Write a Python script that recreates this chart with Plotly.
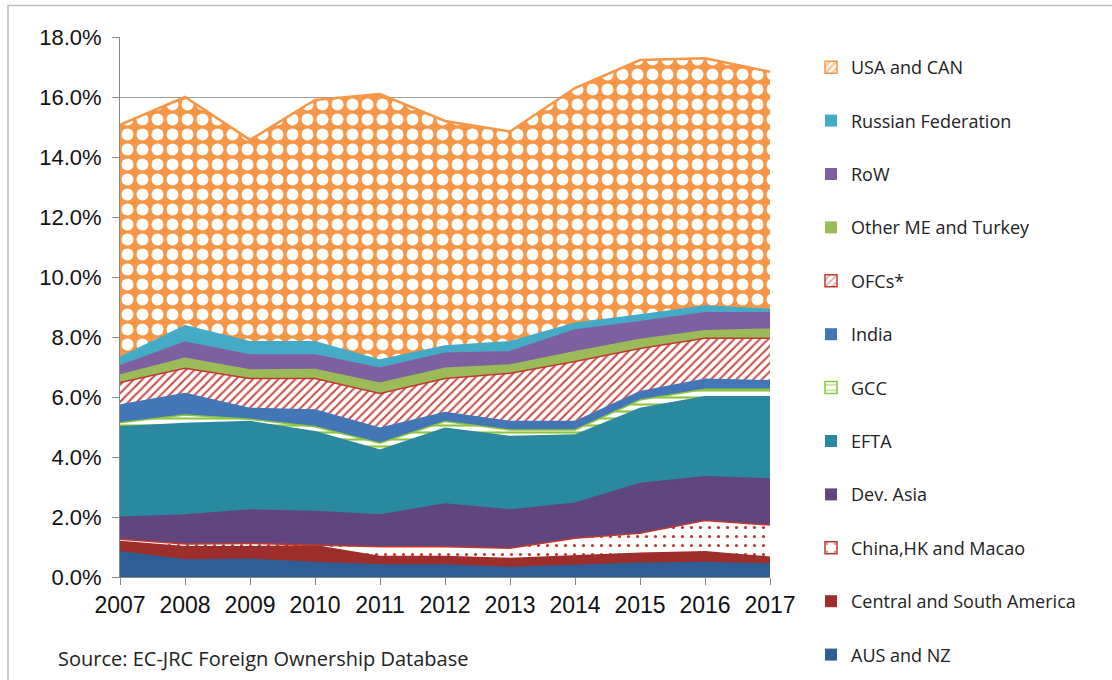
import plotly.graph_objects as go

years = [2007, 2008, 2009, 2010, 2011, 2012, 2013, 2014, 2015, 2016, 2017]

# shares in % (stacked bottom -> top)
aus_nz = [0.84, 0.57, 0.59, 0.48, 0.40, 0.40, 0.32, 0.40, 0.46, 0.48, 0.43]
central_south_america = [0.34, 0.44, 0.42, 0.56, 0.28, 0.28, 0.30, 0.30, 0.33, 0.36, 0.23]
china_hk_macao = [0.08, 0.09, 0.11, 0.03, 0.33, 0.33, 0.34, 0.59, 0.67, 1.04, 1.07]
dev_asia = [0.73, 0.97, 1.11, 1.11, 1.06, 1.42, 1.27, 1.17, 1.66, 1.46, 1.54]
efta = [3.02, 3.05, 2.95, 2.66, 2.16, 2.53, 2.45, 2.27, 2.50, 2.67, 2.74]
gcc = [0.13, 0.28, 0.08, 0.17, 0.23, 0.22, 0.22, 0.17, 0.28, 0.25, 0.25]
india = [0.59, 0.72, 0.36, 0.56, 0.50, 0.30, 0.28, 0.28, 0.28, 0.33, 0.28]
ofcs = [0.75, 0.84, 1.00, 1.05, 1.16, 1.14, 1.61, 2.00, 1.44, 1.37, 1.42]
other_me_turkey = [0.25, 0.33, 0.28, 0.30, 0.34, 0.34, 0.28, 0.33, 0.30, 0.25, 0.30]
row = [0.31, 0.53, 0.50, 0.48, 0.50, 0.50, 0.44, 0.72, 0.59, 0.60, 0.55]
russia = [0.28, 0.55, 0.44, 0.44, 0.27, 0.24, 0.33, 0.23, 0.22, 0.22, 0.11]
usa_can = [7.75, 7.63, 6.73, 8.06, 8.87, 7.50, 7.01, 7.84, 8.50, 8.26, 7.92]

y_ticks = [0, 2, 4, 6, 8, 10, 12, 14, 16, 18]
y_tick_labels = [f"{v:.1f}%" for v in y_ticks]

series = [
    ("AUS and NZ", aus_nz, "#2E5E95", None),
    ("Central and South America", central_south_america, "#9E2E2B", None),
    ("China,HK and Macao", china_hk_macao, "#C0392F",
     dict(shape=".", fgcolor="#C0392F", bgcolor="white", size=9, solidity=0.1)),
    ("Dev. Asia", dev_asia, "#60457E", None),
    ("EFTA", efta, "#2A889F", None),
    ("GCC", gcc, "#8CC43F",
     dict(shape="-", fgcolor="#8CC43F", bgcolor="white", size=7, solidity=0.3)),
    ("India", india, "#4276B6", None),
    ("OFCs*", ofcs, "#C0392F",
     dict(shape="/", fgcolor="#C9504D", bgcolor="white", size=6, solidity=0.35)),
    ("Other ME and Turkey", other_me_turkey, "#9BBB59", None),
    ("RoW", row, "#7E5FA0", None),
    ("Russian Federation", russia, "#45AAC5", None),
    ("USA and CAN", usa_can, "#F79646",
     dict(shape=".", fgcolor="white", bgcolor="#F79646", size=15, solidity=0.5)),
]

fig = go.Figure()

# legend-only square markers (top -> bottom order as in the reference)
for name, vals, color, pat in reversed(series):
    marker = dict(color=color if pat is None else "white",
                  line=dict(color=color, width=1.5 if pat else 0))
    if pat:
        p = dict(pat)
        if name == "USA and CAN":
            p = dict(shape="/", fgcolor="#F79646", bgcolor="white", size=6, solidity=0.6)
        if name == "China,HK and Macao":
            p = dict(shape=".", fgcolor="#C0392F", bgcolor="white", size=12, solidity=0.1)
        marker["pattern"] = p
    fig.add_trace(go.Bar(x=[None], y=[None], name=name, legendgroup=name,
                         marker=marker, showlegend=True, hoverinfo="skip"))

for name, vals, color, pat in series:
    kw = dict(
        x=years, y=vals, name=name, mode="lines", stackgroup="one",
        showlegend=False,
        line=dict(color=color, width=2.5 if name == "USA and CAN" else 1.5),
    )
    if pat:
        kw["fillpattern"] = dict(**pat, fillmode="replace")
        kw["fillcolor"] = pat["bgcolor"]
    else:
        kw["fillcolor"] = color
    fig.add_trace(go.Scatter(**kw))

L, R, T, B = 120, 342, 37, 103
W, H = 1112, 680


def px_x(px):
    return (px - L) / (W - L - R)


def px_y(py):
    return (H - B - py) / (H - T - B)


fig.update_layout(
    width=W, height=H,
    margin=dict(l=L, r=R, t=T, b=B, autoexpand=False),
    paper_bgcolor="white", plot_bgcolor="white",
    showlegend=True,
    legend=dict(
        traceorder="grouped",
        x=px_x(811), xanchor="left", y=px_y(49), yanchor="top",
        font=dict(family="Open Sans", size=18, color="#222222"),
        tracegroupgap=27, itemwidth=30, bgcolor="rgba(0,0,0,0)",
        maxheight=680,
    ),
    xaxis=dict(
        type="linear",
        range=[2007, 2017], tickvals=years, ticktext=[str(y) for y in years],
        showline=True, linecolor="#868686", linewidth=1,
        ticks="outside", ticklen=7, tickcolor="#868686",
        showgrid=False, zeroline=False,
        tickfont=dict(family="Liberation Sans", size=23, color="#111111"),
    ),
    yaxis=dict(
        range=[0, 18], tickvals=y_ticks, ticktext=y_tick_labels,
        showline=True, linecolor="#868686", linewidth=1,
        ticks="outside", ticklen=7, tickcolor="#868686",
        showgrid=True, gridcolor="#9A9A9A", gridwidth=1, zeroline=False,
        ticklabelstandoff=6,
        tickfont=dict(family="Liberation Sans", size=22, color="#111111"),
    ),
    shapes=[
        dict(type="rect", xref="paper", yref="paper",
             x0=px_x(8), x1=px_x(1125), y0=px_y(700), y1=px_y(5.5),
             line=dict(color="#BDBDBD", width=1.5), fillcolor="rgba(0,0,0,0)",
             layer="below"),
    ],
    annotations=[
        dict(text="Source: EC-JRC Foreign Ownership Database",
             xref="paper", yref="paper", x=px_x(56), y=px_y(658),
             xanchor="left", yanchor="middle", showarrow=False,
             font=dict(family="Open Sans", size=20, color="#222222")),
    ],
)

fig.write_html("out.html", config={"displayModeBar": False},
               post_script="document.body.style.margin='0px';")
